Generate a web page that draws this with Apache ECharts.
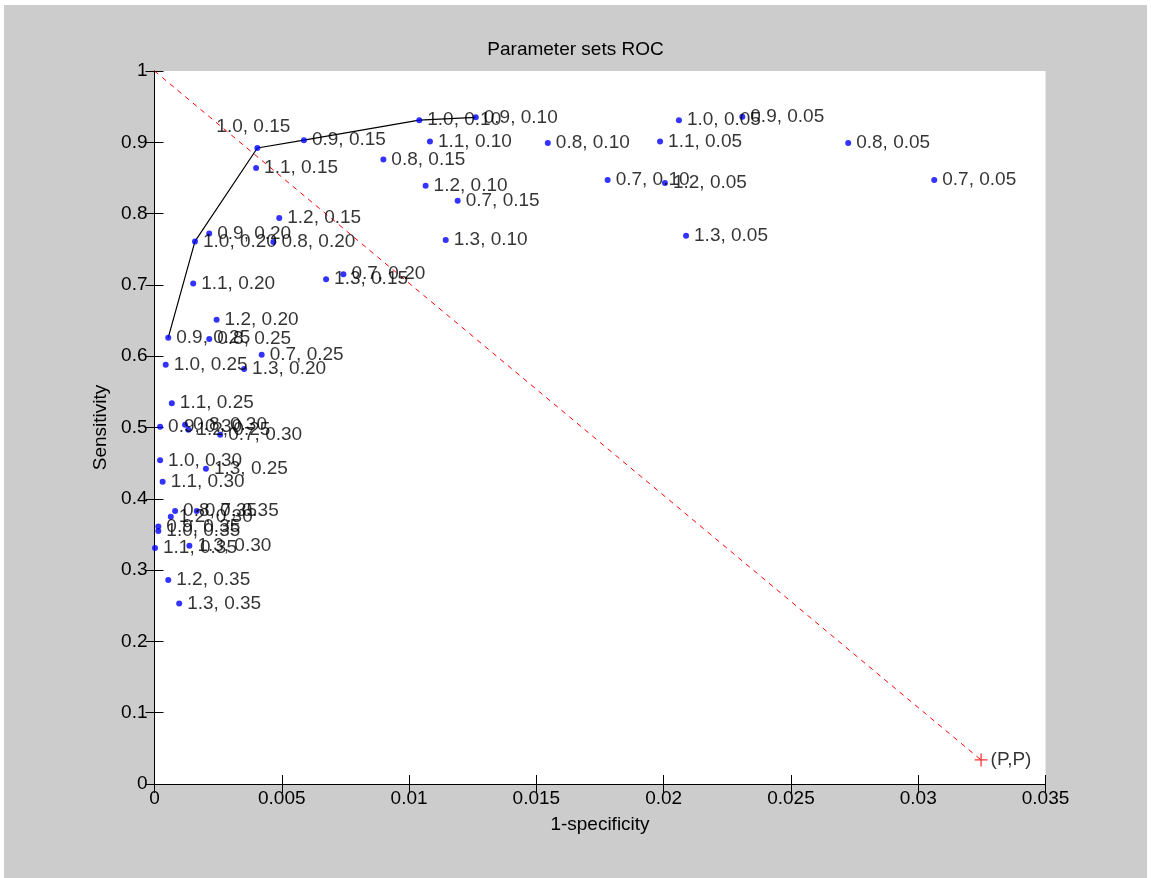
<!DOCTYPE html>
<html>
<head>
<meta charset="utf-8">
<script src="https://cdn.jsdelivr.net/npm/echarts@6/dist/echarts.min.js"></script>
<style>
  html, body { margin: 0; padding: 0; background: #ffffff; width: 1151px; height: 878px; overflow: hidden; }
  #chart { position: absolute; left: 4px; top: 5px; width: 1143px; height: 873px; }
</style>
</head>
<body>
<div id="chart"></div>
<script>
// Parameter labels
const factors = ['0.7', '0.8', '0.9', '1.0', '1.1', '1.2', '1.3'];
const thresholds = ['0.05', '0.10', '0.15', '0.20', '0.25', '0.30', '0.35'];

// 1-specificity and sensitivity, one pair of arrays per threshold (ordered as factors)
const fpr_005  = [0.03063, 0.02725, 0.02309, 0.02060, 0.01986, 0.02005, 0.02088];
const sens_005 = [0.847, 0.899, 0.936, 0.931, 0.901, 0.843, 0.769];
const fpr_010  = [0.01780, 0.01545, 0.01262, 0.01040, 0.01082, 0.01065, 0.01144];
const sens_010 = [0.847, 0.899, 0.935, 0.931, 0.901, 0.839, 0.763];
const fpr_015  = [0.01191, 0.00899, 0.00587, 0.00404, 0.00399, 0.00490, 0.00674];
const sens_015 = [0.818, 0.876, 0.903, 0.892, 0.864, 0.794, 0.708];
const fpr_020  = [0.00742, 0.00467, 0.00215, 0.00159, 0.00152, 0.00244, 0.00352];
const sens_020 = [0.715, 0.760, 0.772, 0.761, 0.702, 0.651, 0.582];
const fpr_025  = [0.00421, 0.00215, 0.00054, 0.00044, 0.00068, 0.00133, 0.00202];
const sens_025 = [0.602, 0.624, 0.626, 0.588, 0.534, 0.497, 0.442];
const fpr_030  = [0.00258, 0.00120, 0.00022, 0.00022, 0.00032, 0.00064, 0.00137];
const sens_030 = [0.490, 0.504, 0.501, 0.454, 0.424, 0.375, 0.334];
const fpr_035  = [0.00166, 0.00081, 0.00015, 0.00015, 0.00002, 0.00054, 0.00097];
const sens_035 = [0.383, 0.383, 0.361, 0.355, 0.331, 0.286, 0.253];

// Convex hull path through parameter sets [threshold, factor]
const hullKeys = [['0.25', '0.9'], ['0.20', '1.0'], ['0.15', '1.0'], ['0.15', '0.9'], ['0.10', '1.0'], ['0.10', '0.9']];

// (P,P) point
const ppPoint = [0.03247, 0.0337];
const ppLabel = '(P,P)';

// Tick labels
const xTickLabels = ['0', '0.005', '0.01', '0.015', '0.02', '0.025', '0.03', '0.035'];
const yTickLabels = ['0', '0.1', '0.2', '0.3', '0.4', '0.5', '0.6', '0.7', '0.8', '0.9', '1'];

const fprByThr = [fpr_005, fpr_010, fpr_015, fpr_020, fpr_025, fpr_030, fpr_035];
const sensByThr = [sens_005, sens_010, sens_015, sens_020, sens_025, sens_030, sens_035];

const FONT = 'Liberation Sans';
const FS = 19;
const TXT = '#000000';

const points = [];
thresholds.forEach((t, ti) => {
  factors.forEach((f, fi) => {
    const item = { name: f + ', ' + t, value: [fprByThr[ti][fi], sensByThr[ti][fi]] };
    if (f === '1.0' && t === '0.15') {
      item.label = { position: 'top', distance: 9, offset: [-4, 0] };
    }
    points.push(item);
  });
});

const hull = hullKeys.map(([t, f]) => {
  const ti = thresholds.indexOf(t), fi = factors.indexOf(f);
  return [fprByThr[ti][fi], sensByThr[ti][fi]];
});

const axisCommon = {
  type: 'value',
  axisLine: { show: true, lineStyle: { color: '#000', width: 1 } },
  axisTick: { show: true, inside: true, length: 9, lineStyle: { color: '#000', width: 1 } },
  splitLine: { show: false }
};

const chart = echarts.init(document.getElementById('chart'), null, { renderer: 'canvas' });
chart.setOption({
  backgroundColor: '#cccccc',
  animation: false,
  title: {
    text: 'Parameter sets ROC',
    left: 'center',
    top: 35,
    padding: 0,
    textStyle: { fontFamily: FONT, fontSize: FS, fontWeight: 'normal', color: TXT }
  },
  grid: { left: 150.5, top: 66, width: 891, height: 713, show: true, backgroundColor: '#ffffff', borderWidth: 0 },
  xAxis: [
    Object.assign({}, axisCommon, {
      min: 0, max: 0.035, interval: 0.005, position: 'bottom',
      name: '1-specificity', nameLocation: 'middle', nameGap: 31,
      nameTextStyle: { fontFamily: FONT, fontSize: FS, color: TXT },
      axisLabel: {
        margin: 5, fontFamily: FONT, fontSize: FS, color: TXT,
        formatter: v => xTickLabels[Math.round(v / 0.005)]
      }
    }),
    Object.assign({}, axisCommon, {
      min: 0, max: 0.035, interval: 0.005, position: 'top', axisLabel: { show: false }
    })
  ],
  yAxis: [
    Object.assign({}, axisCommon, {
      min: 0, max: 1, interval: 0.1, position: 'left',
      name: 'Sensitivity', nameLocation: 'middle', nameGap: 36,
      nameTextStyle: { fontFamily: FONT, fontSize: FS, color: TXT },
      axisLabel: {
        margin: 7, fontFamily: FONT, fontSize: FS, color: TXT,
        formatter: v => yTickLabels[Math.round(v / 0.1)]
      }
    }),
    Object.assign({}, axisCommon, {
      min: 0, max: 1, interval: 0.1, position: 'right', axisLabel: { show: false }
    })
  ],
  series: [
    {
      type: 'line',
      data: [[0, 1], ppPoint],
      symbol: 'none',
      lineStyle: { color: '#ff0000', width: 1, type: [5, 5] },
      z: 2
    },
    {
      type: 'line',
      data: hull,
      symbol: 'none',
      lineStyle: { color: '#000000', width: 1.2 },
      z: 3
    },
    {
      type: 'scatter',
      data: points,
      symbol: 'circle',
      symbolSize: 6,
      itemStyle: { color: '#0000ff' },
      label: {
        show: true, position: 'right', distance: 5,
        formatter: p => p.name,
        fontFamily: FONT, fontSize: FS, color: TXT
      },
      z: 4
    },
    {
      type: 'scatter',
      data: [{ name: ppLabel, value: ppPoint }],
      symbol: 'path://M0,5.4L12,5.4L12,6.6L0,6.6Z M5.4,0L6.6,0L6.6,12L5.4,12Z',
      symbolSize: 13,
      itemStyle: { color: '#ff0000' },
      label: {
        show: true, position: 'right', distance: 3,
        formatter: p => p.name,
        fontFamily: FONT, fontSize: FS, color: TXT
      },
      z: 5
    }
  ]
});
</script>
</body>
</html>
